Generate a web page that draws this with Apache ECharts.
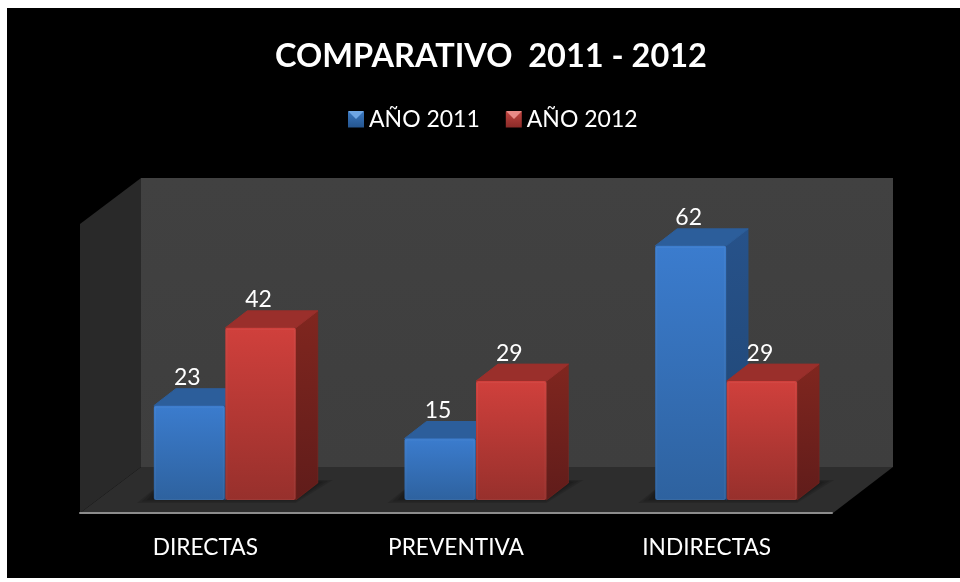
<!DOCTYPE html>
<html><head><meta charset="utf-8">
<style>html,body{margin:0;padding:0;background:#fff}#c{width:960px;height:582px}</style>
<script src="https://cdn.jsdelivr.net/npm/echarts@6/dist/echarts.min.js"></script>
</head><body><div id="c"></div>
<script>
var categories = ['DIRECTAS', 'PREVENTIVA', 'INDIRECTAS'];
var year2011 = [23, 15, 62];
var year2012 = [42, 29, 29];
var seriesNames = ['AÑO 2011', 'AÑO 2012'];
var titleText = 'COMPARATIVO  2011 - 2012';

var FONT = 'Lato, "Open Sans", sans-serif';
var blue = {top:'#2c5e9b', side1:'#27528a', side2:'#1f4572', f1:'#3b7cce', f2:'#2e629f', l1:'#3a78c0', l2:'#25558f', bevel:'#6ea6e4'};
var red  = {top:'#9a2f2b', side1:'#80261f', side2:'#601c1a', f1:'#d0403c', f2:'#97302c', l1:'#c04440', l2:'#8a2b28', bevel:'#e88a86'};

function lg(a,b){return new echarts.graphic.LinearGradient(0,0,0,1,[{offset:0,color:a},{offset:1,color:b}]);}

// front plane of the bars sits this far in from the axis plane
var INY=13, DX=22, DY=17;

function barItem(pal, side){
  return function(params, api){
    var c = api.coord([api.value(0), api.value(1)]);
    var z = api.coord([api.value(0), 0]);
    var cx=c[0];
    var l = side===0 ? cx-51.5 : cx+20;
    var r = side===0 ? cx+19.5 : cx+90.5;
    var b = z[1]-INY, t=c[1]-INY;
    var mid=(l+r)/2;
    return {type:'group',children:[
      {type:'polygon',shape:{points:[[r,t],[r+DX,t-DY],[r+DX,b-DY],[r,b]]},style:{fill:lg(pal.side1,pal.side2),stroke:pal.side1,lineWidth:0.5,lineJoin:'round'}},
      {type:'polygon',shape:{points:[[l,t],[l+DX,t-DY],[r+DX,t-DY],[r,t]]},style:{fill:pal.top,stroke:pal.top,lineWidth:1,lineJoin:'round'}},
      {type:'rect',shape:{x:l,y:t,width:r-l,height:b-t,r:2},style:{fill:lg(pal.f1,pal.f2)}},
      {type:'rect',silent:true,shape:{x:l+1.5,y:t+1.5,width:r-l-3,height:b-t-2,r:1},style:{fill:'none',stroke:'rgba(255,255,255,0.05)',lineWidth:1}},
      {type:'text',z2:100,style:{x:mid-2,y:t-28,text:String(api.value(1)),fill:'#fff',font:'23px '+FONT,align:'center',verticalAlign:'middle'}}
    ]};
  };
}
function shadowItem(params, api){
  var z = api.coord([api.value(0), 0]);
  var l=z[0]-51.5, r=z[0]+90.5, b=z[1]-INY, layers=[], k;
  for(k=0;k<4;k++){
    var g=k*3.5;
    layers.push({type:'polygon',silent:true,shape:{points:[[l-17+g*1.4,b+3-g*0.4],[r,b+3-g*0.4],[r+37-g*1.4,b-20+g*0.3],[r+16,b-20],[l+4,b-14]]},
      style:{fill:'rgba(0,0,0,0.12)'}});
  }
  return {type:'group',children:layers};
}
function sceneItem(params, api){
  var cs=params.coordSys, x0=cs.x, x1=cs.x+cs.width+1, y0=cs.y, y1=cs.y+cs.height, dx=61, dxr=60, dy=46;
  return {type:'group',children:[
    {type:'polygon',shape:{points:[[x0+dx,y0-dy],[x1+dxr,y0-dy],[x1+dxr,y1-dy],[x0+dx,y1-dy]]},style:{fill:lg('#414141','#3e3e3e')}},
    {type:'polygon',shape:{points:[[x0,y0],[x0+dx,y0-dy],[x0+dx,y1-dy],[x0,y1]]},style:{fill:'#292929'}},
    {type:'polygon',shape:{points:[[x0,y1],[x0+dx,y1-dy],[x1+dxr,y1-dy],[x1,y1]]},style:{fill:'#2d2d2d'}}
  ]};
}
var chart = echarts.init(document.getElementById('c'),null,{renderer:'canvas'});
var toPairs=function(a){return a.map(function(v,i){return [i,v];});};
chart.setOption({
  animation:false,
  backgroundColor:'#fff',
  title:{text:titleText,left:486,textAlign:'center',top:35,textStyle:{color:'#fff',fontFamily:FONT,fontWeight:'bold',fontSize:32.5}},
  legend:{left:348,top:108,padding:0,itemWidth:16,itemHeight:16,itemGap:26,itemStyle:{borderWidth:0},icon:'rect',selectedMode:false,
    textStyle:{color:'#fff',fontFamily:FONT,fontSize:23},
    data:[{name:seriesNames[0],itemStyle:{color:lg(blue.l1,blue.l2)}},{name:seriesNames[1],itemStyle:{color:lg(red.l1,red.l2)}}]},
  grid:{left:80,right:128,top:224,bottom:69,containLabel:false},
  xAxis:{type:'category',data:categories,axisTick:{show:false},z:5,
    axisLine:{show:true,onZero:false,lineStyle:{color:'#8c8c8c',width:2}},
    axisLabel:{color:'#fff',fontFamily:FONT,fontSize:22.7,margin:23},splitLine:{show:false}},
  yAxis:{type:'value',min:0,max:70.5,show:false,splitLine:{show:false}},
  graphic:{elements:[
    {type:'rect',z:-10,silent:true,shape:{x:7,y:8,width:953,height:570},style:{fill:'#000'}},
    {type:'polygon',z:100,silent:true,shape:{points:[[348,111],[364,111],[356,119]]},style:{fill:blue.bevel}},
    {type:'polygon',z:100,silent:true,shape:{points:[[506,111],[522,111],[514,119]]},style:{fill:red.bevel}}
  ]},
  series:[
    {type:'custom',name:'scene',silent:true,z:1,renderItem:sceneItem,data:[[0,0]],encode:{x:0,y:1}},
    {type:'custom',name:'shadow',silent:true,z:2,renderItem:shadowItem,data:toPairs(year2011),encode:{x:0,y:1}},
    {type:'custom',name:seriesNames[0],z:3,renderItem:barItem(blue,0),data:toPairs(year2011),encode:{x:0,y:1}},
    {type:'custom',name:seriesNames[1],z:4,renderItem:barItem(red,1),data:toPairs(year2012),encode:{x:0,y:1}}
  ]
});
</script></body></html>
